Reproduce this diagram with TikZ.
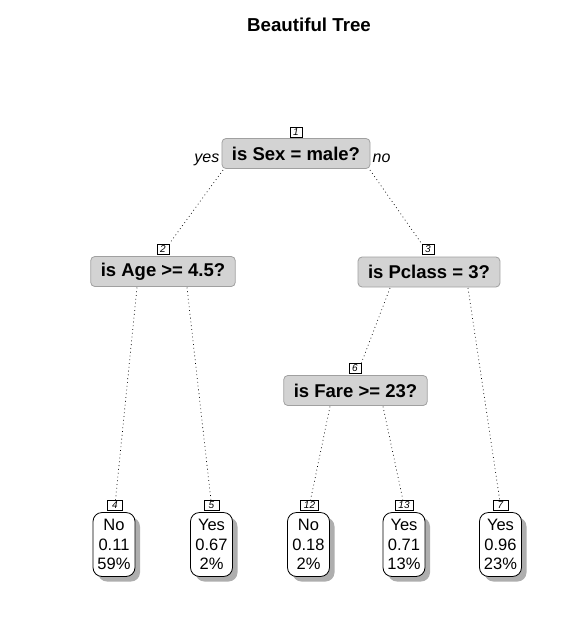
\documentclass[tikz,border=0pt]{standalone}
\usepackage{fontspec}
\setmainfont{Liberation Sans}
\definecolor{splitfill}{RGB}{211, 211, 211}
\definecolor{splitline}{RGB}{160, 160, 160}
\definecolor{shadowgray}{RGB}{160, 160, 160}
\usetikzlibrary{shadows}
\tikzset{
	splitbox/.style={rectangle, rounded corners=4pt, draw=splitline, fill=splitfill, line width=0.8pt, inner xsep=10pt, inner ysep=0pt, minimum height=30pt, font=\fontsize{18.5}{20}\selectfont\bfseries},
	numbox/.style={rectangle, draw=black, fill=white, line width=0.6pt, inner sep=1pt, minimum width=12pt, minimum height=10pt, font=\fontsize{10}{10}\selectfont\itshape},
	leafbox/.style={rectangle, rounded corners=9pt, draw=black, fill=white, line width=0.8pt, align=center, minimum width=42pt, minimum height=64pt, inner sep=0pt, font=\fontsize{16.5}{19.5}\selectfont, drop shadow={shadow xshift=5pt, shadow yshift=-5pt, fill=shadowgray, opacity=0.85}},
	dirlabel/.style={font=\fontsize{16}{16}\selectfont\itshape, inner xsep=2pt},
	branch/.style={line width=0.7pt, dash pattern=on 0.8pt off 3pt},
}
\begin{document}
\begin{tikzpicture}[x=1pt, y=-1pt]
	\useasboundingbox (0,0) rectangle (575,625);
	% title
	\node[font=\fontsize{18.7}{18.7}\selectfont\bfseries] (title) at (309,25) {Beautiful Tree};
	% split nodes
	\node[splitbox] (n1) at (296,153.5) {is Sex = male?};
	\node[numbox] (n1lab) at (296,132) {1};
	\node[dirlabel, anchor=east] (yes) at ([yshift=-6pt]n1.west) {yes};
	\node[dirlabel, anchor=west] (no) at ([yshift=-5pt]n1.east) {no};
	\node[splitbox] (n2) at (163,271.5) {is Age >= 4.5?};
	\node[numbox] (n2lab) at (163,249) {2};
	\node[splitbox] (n3) at (429,272) {is Pclass = 3?};
	\node[numbox] (n3lab) at (428,249) {3};
	\node[splitbox] (n6) at (355.5,390.5) {is Fare >= 23?};
	\node[numbox] (n6lab) at (355,368.5) {6};
	% leaves
	\node[leafbox] (l4) at (114,544.5) {No\\0.11\\59\%};
	\node[numbox, minimum width=15pt] (l4lab) at (115,505) {4};
	\node[leafbox] (l5) at (211.5,544.5) {Yes\\0.67\\2\%};
	\node[numbox, minimum width=15pt] (l5lab) at (211.5,505) {5};
	\node[leafbox] (l12) at (308.5,544.5) {No\\0.18\\2\%};
	\node[numbox, minimum width=18pt] (l12lab) at (309.5,505) {12};
	\node[leafbox] (l13) at (404,544.5) {Yes\\0.71\\13\%};
	\node[numbox, minimum width=18pt] (l13lab) at (404,505) {13};
	\node[leafbox] (l7) at (500.5,544.5) {Yes\\0.96\\23\%};
	\node[numbox, minimum width=15pt] (l7lab) at (500.5,505) {7};
	% branch start points
	\coordinate (c1l) at (223,170);
	\coordinate (c1r) at (370,170);
	\coordinate (c2l) at (137,287.5);
	\coordinate (c2r) at (187,287.5);
	\coordinate (c3l) at (390,288);
	\coordinate (c3r) at (468,288);
	\coordinate (c6l) at (330,406.5);
	\coordinate (c6r) at (383,406.5);
	% branches
	\draw[branch] (c1l) -- (n2lab.north east);
	\draw[branch] (c1r) -- (n3lab.north west);
	\draw[branch] (c2l) -- (l4lab);
	\draw[branch] (c2r) -- (l5lab);
	\draw[branch] (c3l) -- (n6lab.north east);
	\draw[branch] (c3r) -- (l7lab);
	\draw[branch] (c6l) -- (l12lab);
	\draw[branch] (c6r) -- (l13lab);
\end{tikzpicture}
\end{document}
